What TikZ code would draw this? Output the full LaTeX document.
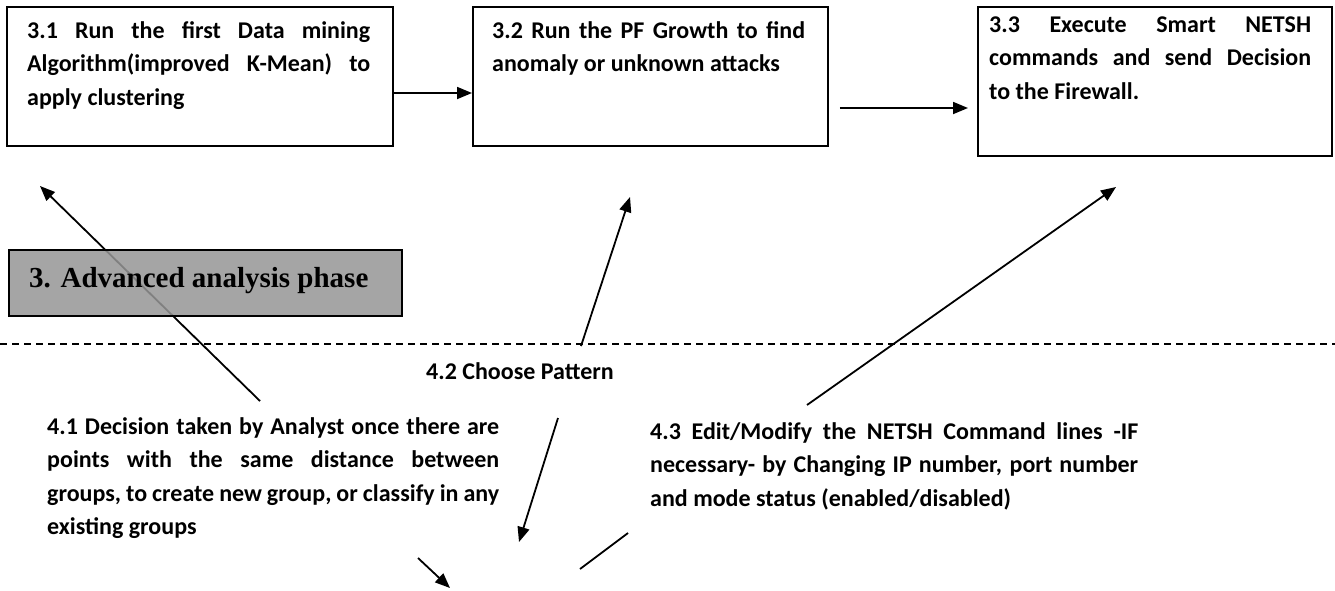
\documentclass[tikz,border=0pt]{standalone}
\usepackage{fontspec}
\setmainfont{Carlito}
\newfontfamily\headfont{Liberation Serif}
\usetikzlibrary{arrows.meta}
\begin{document}
\hyphenpenalty=10000
\exhyphenpenalty=10000
\tolerance=9999
\begin{tikzpicture}[x=1pt,y=-1pt,
  frame/.style={draw=black, line width=1.8pt, anchor=north west, inner sep=0pt},
  txt/.style={anchor=base west, inner sep=0pt, align=justify,
    font=\bfseries\fontsize{24}{33.5}\selectfont},
  arr/.style={line width=1.8pt, -{Triangle[length=15pt,width=12pt]}},
  plainline/.style={line width=1.8pt},
  phase/.style={draw=black, line width=1.5pt, fill=black!41, fill opacity=0.86,
    anchor=north west, inner sep=0pt}]
\useasboundingbox (0,0) rectangle (1335,590);

% upper row: the three steps of the advanced analysis
\node[frame, minimum width=386pt, minimum height=139pt] (b31) at (6,6) {};
\node[frame, minimum width=355pt, minimum height=139pt] (b32) at (472,6) {};
\node[frame, minimum width=354pt, minimum height=149pt] (b33) at (977,6) {};

\node[txt, text width=343pt] (t31) at (27,38)
  {3.1 Run the first Data mining\linebreak Algorithm(improved K-Mean) to\linebreak apply clustering};
\node[txt, text width=313pt] (t32) at (492,38)
  {3.2 Run the PF Growth to find\linebreak anomaly or unknown attacks};
\node[txt, text width=322pt] (t33) at (989,32)
  {3.3 Execute Smart NETSH\linebreak commands and send Decision\linebreak to the Firewall.};

\draw[arr] ([yshift=-87pt]b31.north east) -- ([yshift=-87pt]b32.north west);
\draw[arr] ([xshift=11pt,yshift=-102pt]b32.north east) -- ([xshift=-9pt,yshift=-102pt]b33.north west);

% phase separator
\coordinate (sepL) at (0,344);
\coordinate (sepR) at (1335,344);
\draw[line width=1.3pt, dash pattern=on 7pt off 5pt] (sepL) -- (sepR);

% analyst decisions
\node[txt, text width=452pt] (t41) at (47,434)
  {4.1 Decision taken by Analyst once there are\linebreak points with the same distance between\linebreak groups, to create new group, or classify in any\linebreak existing groups};
\node[txt, align=left] (t42) at (426,379) {4.2 Choose Pattern};
\node[txt, text width=488pt] (t43) at (650,439)
  {4.3 Edit/Modify the NETSH Command lines -IF\linebreak necessary- by Changing IP number, port number\linebreak and mode status (enabled/disabled)};

% feedback connectors
\coordinate (s41) at (260,401);
\coordinate (h31) at (40,186);
\coordinate (s42) at (581,346);
\coordinate (h32) at (630,197);
\coordinate (s43) at (807,405);
\coordinate (h33) at (1116,187);
\coordinate (d42a) at (558,418);
\coordinate (d42b) at (519,542);
\coordinate (d41a) at (418,558);
\coordinate (d41b) at (450,588);
\coordinate (d43a) at (628,533);
\coordinate (d43b) at (580,569);

\draw[arr] (s41) -- (h31);
\draw[arr] (s42) -- (h32);
\draw[arr] (s43) -- (h33);
\draw[arr] (d42a) -- (d42b);
\draw[arr] (d41a) -- (d41b);
\draw[plainline] (d43a) -- (d43b);

% phase label, laid over the connector
\node[phase, minimum width=393pt, minimum height=66pt] (phasebox) at (8,249) {};
\node[anchor=base west, inner sep=0pt, font=\headfont\bfseries\fontsize{29}{33}\selectfont]
  (phasetxt) at (29,287) {3. Advanced analysis phase};
\end{tikzpicture}
\end{document}
